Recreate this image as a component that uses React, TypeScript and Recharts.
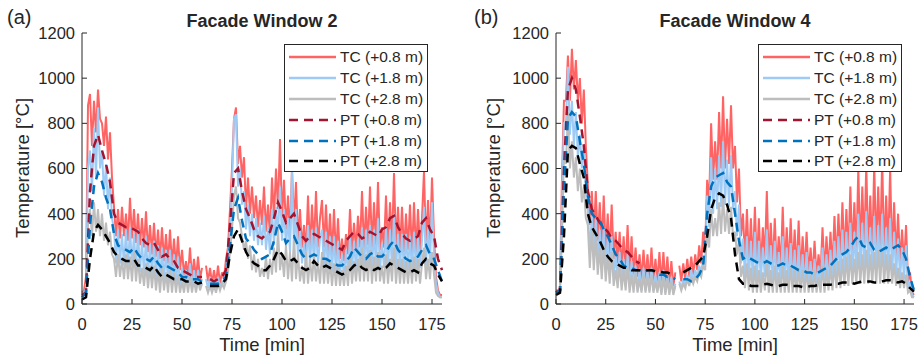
import React from "react";
import { LineChart, Line, XAxis, YAxis, Legend } from "recharts";

// thermocouple time base, minutes (1 min steps)
const TIME_TC = [
  0, 1, 2, 3, 4, 5, 6, 7, 8, 9, 10, 11, 12, 13, 14, 15, 16, 17, 18, 19,
  20, 21, 22, 23, 24, 25, 26, 27, 28, 29, 30, 31, 32, 33, 34, 35, 36, 37, 38, 39,
  40, 41, 42, 43, 44, 45, 46, 47, 48, 49, 50, 51, 52, 53, 54, 55, 56, 57, 58, 59,
  60, 61, 62, 63, 64, 65, 66, 67, 68, 69, 70, 71, 72, 73, 74, 75, 76, 77, 78, 79,
  80, 81, 82, 83, 84, 85, 86, 87, 88, 89, 90, 91, 92, 93, 94, 95, 96, 97, 98, 99,
  100, 101, 102, 103, 104, 105, 106, 107, 108, 109, 110, 111, 112, 113, 114, 115, 116, 117, 118, 119,
  120, 121, 122, 123, 124, 125, 126, 127, 128, 129, 130, 131, 132, 133, 134, 135, 136, 137, 138, 139,
  140, 141, 142, 143, 144, 145, 146, 147, 148, 149, 150, 151, 152, 153, 154, 155, 156, 157, 158, 159,
  160, 161, 162, 163, 164, 165, 166, 167, 168, 169, 170, 171, 172, 173, 174, 175, 176, 177, 178, 179,
  180,
];

// plate thermometer time base, minutes (2 min steps)
const TIME_PT = [
  0, 2, 4, 6, 8, 10, 12, 14, 16, 18,
  20, 22, 24, 26, 28, 30, 32, 34, 36, 38,
  40, 42, 44, 46, 48, 50, 52, 54, 56, 58,
  60, 62, 64, 66, 68, 70, 72, 74, 76, 78,
  80, 82, 84, 86, 88, 90, 92, 94, 96, 98,
  100, 102, 104, 106, 108, 110, 112, 114, 116, 118,
  120, 122, 124, 126, 128, 130, 132, 134, 136, 138,
  140, 142, 144, 146, 148, 150, 152, 154, 156, 158,
  160, 162, 164, 166, 168, 170, 172, 174, 176, 178,
  180,
];

const X_TICKS = [0, 25, 50, 75, 100, 125, 150, 175];
const Y_TICKS = [0, 200, 400, 600, 800, 1000, 1200];

// (a) Facade Window 2 — thermocouples
const W2_TC08 = [
  50, 60, 120, 880, 930, 700, 900, 760, 950, 820,
  800, 700, 830, 640, 760, 560, 430, 300, 420, 290,
  430, 300, 400, 280, 470, 290, 420, 270, 400, 260,
  380, 250, 410, 230, 350, 220, 360, 210, 330, 200,
  340, 190, 310, 180, 330, 170, 290, 160, 300, 150,
  240, 130, 190, 120, 250, 110, 200, 110, 210, 110,
  160, null, 170, 100, 160, 90, 150, 90, 170, 90,
  140, 110, 200, 250, 420, 600, 820, 870, 620, 700,
  560, 650, 420, 560, 400, 520, 380, 480, 340, 460,
  350, 520, 320, 440, 300, 560, 380, 600, 420, 730,
  380, 550, 330, 480, 300, 600, 350, 540, 280, 420,
  250, 350, 230, 480, 240, 440, 260, 500, 250, 380,
  460, 250, 440, 230, 400, 220, 420, 210, 380, 200,
  290, 190, 310, 220, 420, 230, 360, 240, 390, 250,
  500, 240, 430, 260, 520, 250, 450, 260, 540, 240,
  340, 250, 480, 240, 450, 260, 580, 250, 430, 240,
  430, 230, 400, 240, 440, 220, 450, 230, 420, 240,
  380, 590, 250, 460, 260, 560, 300, 120, 60, 40,
  40,
];
const W2_TC18 = [
  40, 50, 70, 600, 680, 500, 780, 560, 870, 600,
  680, 480, 620, 420, 560, 380, 330, 180, 330, 180,
  310, 170, 330, 160, 340, 170, 310, 150, 330, 140,
  280, 130, 300, 120, 270, 120, 280, 110, 260, 100,
  250, 100, 240, 90, 240, 90, 220, 80, 210, 80,
  160, 70, 150, 70, 180, 70, 150, 60, 150, 70,
  110, null, 110, 70, 120, 60, 110, 70, 120, 70,
  100, 90, 140, 190, 330, 520, 820, 840, 520, 600,
  440, 500, 330, 440, 300, 400, 280, 380, 260, 360,
  260, 390, 240, 340, 220, 420, 260, 430, 300, 520,
  280, 420, 250, 380, 230, 590, 240, 420, 200, 330,
  180, 270, 160, 350, 170, 330, 180, 340, 170, 290,
  330, 160, 320, 150, 300, 140, 300, 130, 280, 130,
  220, 120, 240, 140, 300, 150, 280, 150, 290, 160,
  340, 150, 330, 160, 350, 150, 330, 160, 380, 150,
  270, 160, 340, 150, 330, 160, 400, 150, 310, 150,
  310, 140, 310, 150, 300, 140, 320, 150, 300, 160,
  280, 430, 170, 340, 180, 450, 200, 90, 50, 30,
  30,
];
const W2_TC28 = [
  40, 45, 60, 350, 420, 300, 450, 320, 420, 300,
  400, 280, 360, 260, 320, 220, 200, 120, 220, 120,
  200, 110, 220, 110, 210, 100, 230, 100, 200, 90,
  160, 80, 180, 70, 170, 70, 170, 60, 150, 50,
  160, 60, 140, 50, 150, 50, 140, 50, 130, 50,
  100, 50, 120, 50, 120, 50, 110, 50, 110, 60,
  90, null, 80, 50, 80, 50, 80, 50, 90, 60,
  90, 70, 100, 140, 230, 330, 480, 520, 380, 360,
  300, 240, 280, 200, 260, 150, 220, 140, 200, 120,
  160, 120, 210, 110, 200, 130, 250, 140, 330, 150,
  220, 120, 260, 110, 230, 100, 300, 110, 220, 100,
  170, 90, 230, 90, 200, 100, 220, 100, 190, 90,
  230, 90, 200, 90, 190, 80, 180, 80, 180, 80,
  150, 80, 170, 80, 220, 90, 190, 100, 200, 100,
  250, 100, 220, 100, 240, 90, 210, 100, 230, 100,
  170, 90, 220, 90, 200, 100, 250, 90, 200, 90,
  200, 90, 190, 90, 190, 90, 210, 100, 200, 90,
  180, 250, 110, 200, 110, 230, 130, 50, 35, 30,
  30,
];
// (a) Facade Window 2 — plate thermometers
const W2_PT08 = [
  40, 50, 500, 700, 750, 680, 620, 540, 400, 360,
  350, 340, 340, 330, 320, 290, 270, 260, 270, 240,
  210, 220, 200, 190, 160, 150, 140, 130, 120, 120,
  120, null, 110, 100, 110, 120, 150, 350, 580, 600,
  500, 420, 380, 330, 300, 290, 310, 320, 380, 450,
  410, 360, 380, 400, 350, 300, 280, 300, 310, 300,
  290, 280, 270, 260, 250, 240, 280, 300, 320, 310,
  290, 300, 320, 310, 300, 330, 340, 380, 390, 340,
  310, 290, 280, 290, 300, 360, 380, 330, 300, 200,
  150,
];
const W2_PT18 = [
  30, 50, 350, 520, 580, 540, 470, 420, 310, 260,
  250, 240, 230, 250, 220, 200, 200, 190, 210, 180,
  160, 170, 160, 150, 140, 120, 120, 110, 110, 110,
  100, null, 90, 90, 90, 100, 120, 260, 420, 470,
  370, 290, 270, 240, 220, 200, 210, 220, 280, 360,
  320, 270, 290, 300, 260, 220, 200, 210, 220, 210,
  200, 200, 190, 180, 170, 170, 190, 210, 250, 230,
  210, 200, 220, 230, 210, 210, 230, 260, 280, 240,
  220, 200, 190, 200, 210, 240, 260, 220, 200, 150,
  100,
];
const W2_PT28 = [
  20, 30, 200, 320, 350, 330, 300, 270, 230, 210,
  200, 190, 190, 200, 170, 170, 160, 150, 170, 140,
  120, 130, 120, 110, 110, 110, 100, 100, 100, 90,
  95, null, 80, 80, 80, 90, 110, 220, 300, 330,
  280, 230, 200, 180, 170, 150, 150, 170, 200, 240,
  220, 190, 190, 200, 180, 160, 150, 160, 190, 170,
  160, 170, 160, 150, 140, 130, 140, 150, 170, 180,
  160, 150, 160, 150, 160, 150, 160, 180, 170, 160,
  150, 140, 140, 150, 140, 180, 200, 180, 170, 130,
  100,
];

// (b) Facade Window 4 — thermocouples
const W4_TC08 = [
  60, 60, 70, 550, 900, 900, 1100, 900, 1130, 950,
  1080, 900, 1000, 800, 950, 700, 530, 350, 500, 300,
  500, 280, 450, 250, 480, 230, 400, 220, 440, 200,
  320, 180, 320, 160, 300, 150, 350, 140, 300, 130,
  250, 120, 220, 110, 240, 110, 220, 100, 250, 100,
  200, 100, 230, 90, 230, 90, 210, 80, 190, 80,
  140, null, 170, 100, 180, 110, 200, 120, 210, 130,
  220, 150, 260, 180, 320, 250, 550, 450, 800, 550,
  720, 550, 850, 600, 920, 600, 820, 620, 880, 600,
  700, 450, 600, 300, 400, 200, 420, 180, 380, 170,
  430, 170, 380, 160, 340, 200, 500, 170, 360, 160,
  380, 150, 300, 160, 430, 150, 340, 160, 380, 150,
  330, 140, 370, 130, 300, 140, 320, 130, 250, 120,
  280, 120, 220, 130, 340, 140, 300, 150, 320, 160,
  390, 180, 400, 200, 450, 200, 420, 210, 520, 220,
  450, 220, 600, 230, 520, 240, 620, 230, 480, 220,
  620, 240, 520, 230, 640, 220, 480, 230, 600, 210,
  450, 200, 400, 180, 330, 170, 350, 100, 140, 50,
  40,
];
const W4_TC18 = [
  50, 50, 60, 450, 800, 800, 1050, 750, 900, 700,
  850, 650, 750, 600, 700, 500, 420, 220, 400, 200,
  380, 180, 330, 160, 340, 150, 300, 130, 300, 120,
  220, 100, 230, 90, 200, 80, 220, 80, 190, 70,
  170, 60, 150, 60, 160, 60, 150, 60, 160, 60,
  130, 60, 140, 50, 150, 50, 130, 50, 120, 50,
  90, null, 100, 70, 110, 80, 130, 90, 150, 100,
  150, 120, 170, 140, 200, 180, 480, 340, 650, 400,
  600, 420, 660, 430, 720, 440, 640, 430, 660, 420,
  500, 300, 440, 180, 290, 120, 300, 110, 280, 100,
  320, 100, 280, 100, 250, 120, 330, 100, 260, 100,
  280, 90, 230, 90, 300, 90, 250, 90, 270, 90,
  240, 80, 260, 80, 220, 80, 230, 80, 190, 80,
  200, 80, 170, 80, 250, 90, 220, 90, 240, 100,
  280, 110, 300, 120, 330, 120, 320, 130, 360, 130,
  320, 140, 400, 140, 360, 150, 410, 150, 340, 140,
  390, 150, 350, 140, 400, 140, 340, 140, 380, 130,
  320, 120, 290, 110, 250, 110, 260, 70, 100, 40,
  30,
];
const W4_TC28 = [
  50, 50, 55, 300, 650, 620, 850, 600, 720, 560,
  650, 500, 600, 450, 520, 380, 350, 160, 330, 150,
  300, 130, 250, 110, 260, 100, 220, 90, 230, 80,
  150, 70, 180, 60, 150, 60, 170, 50, 130, 50,
  140, 50, 110, 50, 130, 50, 120, 50, 130, 50,
  100, 50, 110, 40, 120, 40, 110, 40, 100, 40,
  80, null, 90, 60, 90, 70, 110, 80, 120, 90,
  120, 100, 140, 120, 170, 150, 330, 250, 420, 300,
  380, 300, 450, 310, 480, 320, 420, 310, 430, 300,
  320, 220, 280, 120, 170, 70, 180, 60, 160, 50,
  170, 50, 150, 50, 140, 60, 200, 50, 150, 50,
  170, 50, 140, 50, 180, 50, 150, 50, 170, 50,
  150, 50, 160, 50, 150, 50, 150, 50, 130, 50,
  150, 50, 120, 50, 170, 50, 150, 60, 170, 60,
  180, 70, 190, 70, 200, 80, 210, 80, 220, 90,
  200, 90, 230, 90, 220, 90, 240, 90, 220, 90,
  230, 90, 240, 90, 250, 90, 220, 90, 220, 90,
  180, 80, 160, 70, 140, 70, 130, 50, 60, 30,
  30,
];
// (b) Facade Window 4 — plate thermometers
const W4_PT08 = [
  50, 60, 600, 950, 1000, 950, 830, 700, 500, 420,
  390, 360, 340, 320, 290, 280, 260, 240, 230, 210,
  190, 180, null, null, null, null, null, null, null, null,
  null, null, null, null, null, null, null, null, null, null,
  null, null, null, null, null, null, null, null, null, null,
  null, null, null, null, null, null, null, null, null, null,
  null, null, null, null, null, null, null, null, null, null,
  null, null, null, null, null, null, null, null, null, null,
  null, null, null, null, null, null, null, null, null, null,
  null,
];
const W4_PT18 = [
  50, 60, 500, 820, 850, 830, 720, 620, 480, 400,
  380, 370, 330, 300, 260, 220, 200, 170, 160, 160,
  150, 150, 140, 150, 150, 140, 130, 130, 120, 120,
  110, null, 110, 110, 100, 110, 130, 170, 400, 520,
  560, 570, 580, 540, 520, 400, 280, 200, 210, 200,
  190, 180, 180, 190, 180, 170, 170, 180, 170, 170,
  160, 150, 150, 140, 140, 130, 140, 150, 160, 170,
  190, 210, 220, 230, 250, 280, 300, 260, 250, 270,
  240, 230, 240, 250, 240, 250, 260, 240, 200, 120,
  60,
];
const W4_PT28 = [
  40, 50, 300, 680, 700, 690, 620, 560, 400, 340,
  310, 280, 240, 210, 190, 180, 170, 160, 160, 150,
  150, 150, 150, 150, 150, 145, 145, 140, 140, 130,
  125, null, 140, 150, 160, 170, 190, 210, 300, 420,
  470, 490, 480, 440, 380, 220, 110, 90, 90, 80,
  80, 80, 85, 90, 85, 80, 80, 85, 85, 80,
  80, 80, 75, 75, 80, 80, 85, 85, 85, 85,
  90, 90, 95, 95, 95, 90, 95, 100, 100, 100,
  95, 95, 100, 105, 105, 100, 95, 100, 90, 70,
  55,
];

const FONT = "'Liberation Sans', Arial, Helvetica, sans-serif";
const INK = "#262626";

const SERIES = [
  { key: "tc08", name: "TC (+0.8 m)", color: "#ff6464", width: 2, dash: undefined, pt: false },
  { key: "tc18", name: "TC (+1.8 m)", color: "#9ecbf5", width: 2, dash: undefined, pt: false },
  { key: "tc28", name: "TC (+2.8 m)", color: "#bdbdbd", width: 2, dash: undefined, pt: false },
  { key: "pt08", name: "PT (+0.8 m)", color: "#a2142f", width: 2.5, dash: "9 6", pt: true },
  { key: "pt18", name: "PT (+1.8 m)", color: "#0072bd", width: 2.5, dash: "9 6", pt: true },
  { key: "pt28", name: "PT (+2.8 m)", color: "#000000", width: 2.5, dash: "9 6", pt: true },
];

function rows(time, a, b, c, keys) {
  return time.map((t, i) => ({ t, [keys[0]]: a[i], [keys[1]]: b[i], [keys[2]]: c[i] }));
}

const TC_W2 = rows(TIME_TC, W2_TC08, W2_TC18, W2_TC28, ["tc08", "tc18", "tc28"]);
const PT_W2 = rows(TIME_PT, W2_PT08, W2_PT18, W2_PT28, ["pt08", "pt18", "pt28"]);
const TC_W4 = rows(TIME_TC, W4_TC08, W4_TC18, W4_TC28, ["tc08", "tc18", "tc28"]);
const PT_W4 = rows(TIME_PT, W4_PT08, W4_PT18, W4_PT28, ["pt08", "pt18", "pt28"]);

function BoxLegend() {
  return (
    <div
      style={{
        width: 144,
        height: 128,
        boxSizing: "border-box",
        border: `1px solid ${INK}`,
        background: "#fff",
        paddingTop: 2,
        fontFamily: FONT,
        fontSize: 15.5,
        color: INK,
      }}
    >
      {SERIES.map((s) => (
        <div key={s.key} style={{ display: "flex", alignItems: "center", height: 20.8 }}>
          <svg width={55} height={8} style={{ flexShrink: 0 }}>
            <line x1={4} x2={51} y1={4} y2={4} stroke={s.color} strokeWidth={2.5} strokeDasharray={s.dash} />
          </svg>
          <span style={{ whiteSpace: "nowrap" }}>{s.name}</span>
        </div>
      ))}
    </div>
  );
}

function Panel({ tc, pt, left, width, mLeft, mRight, legendLeft }) {
  const tickStyle = { fontSize: 16.5, fill: INK, fontFamily: FONT };
  return (
    <div style={{ position: "absolute", left, top: 0 }}>
      <LineChart width={width} height={359} margin={{ top: 33, right: mRight, bottom: 25, left: mLeft }}>
        <XAxis
          dataKey="t"
          type="number"
          domain={[0, 180]}
          ticks={X_TICKS}
          height={30}
          stroke={INK}
          tick={tickStyle}
          tickSize={-5}
          tickMargin={19}
          interval={0}
          allowDuplicatedCategory={false}
        />
        <XAxis xAxisId="top" orientation="top" dataKey="t" type="number" domain={[0, 180]} ticks={X_TICKS} height={0} mirror tick={false} tickSize={5} stroke={INK} />
        <YAxis
          type="number"
          domain={[0, 1200]}
          ticks={Y_TICKS}
          width={50}
          stroke={INK}
          tick={tickStyle}
          tickSize={-5}
          tickMargin={12}
          interval={0}
        />
        <YAxis yAxisId="right" orientation="right" type="number" domain={[0, 1200]} ticks={Y_TICKS} width={0} mirror tick={false} tickSize={5} stroke={INK} />
        <Legend
          layout="vertical"
          align="center"
          verticalAlign="middle"
          content={<BoxLegend />}
          wrapperStyle={{ left: legendLeft, top: 44, width: 144, height: 128 }}
        />
        {SERIES.map((s) => (
          <Line
            key={s.key}
            data={s.pt ? pt : tc}
            dataKey={s.key}
            name={s.name}
            type="linear"
            stroke={s.color}
            strokeWidth={s.width}
            strokeDasharray={s.dash}
            dot={false}
            activeDot={false}
            isAnimationActive={false}
          />
        ))}
      </LineChart>
    </div>
  );
}

export default function App() {
  const labelStyle = { fontFamily: FONT, fill: INK };
  return (
    <div style={{ position: "absolute", left: 0, top: 0, width: 921, height: 359, background: "#fff" }}>
      <Panel tc={TC_W2} pt={PT_W2} left={0} width={460} mLeft={32} mRight={18} legendLeft={284} />
      <Panel tc={TC_W4} pt={PT_W4} left={460} width={461} mLeft={46} mRight={7} legendLeft={298} />
      <svg width={921} height={359} style={{ position: "absolute", left: 0, top: 0, pointerEvents: "none" }}>
        <text x={7} y={24} fontSize={20} style={labelStyle}>(a)</text>
        <text x={474} y={24} fontSize={20} style={labelStyle}>(b)</text>
        <text x={262} y={26.5} fontSize={18} fontWeight="bold" textAnchor="middle" style={labelStyle}>Facade Window 2</text>
        <text x={735} y={26.5} fontSize={18} fontWeight="bold" textAnchor="middle" style={labelStyle}>Facade Window 4</text>
        <text transform="translate(29,168) rotate(-90)" fontSize={18.5} textAnchor="middle" style={labelStyle}>Temperature [°C]</text>
        <text transform="translate(500,168) rotate(-90)" fontSize={18.5} textAnchor="middle" style={labelStyle}>Temperature [°C]</text>
        <text x={262} y={351} fontSize={18.5} textAnchor="middle" style={labelStyle}>Time [min]</text>
        <text x={735} y={351} fontSize={18.5} textAnchor="middle" style={labelStyle}>Time [min]</text>
      </svg>
    </div>
  );
}
